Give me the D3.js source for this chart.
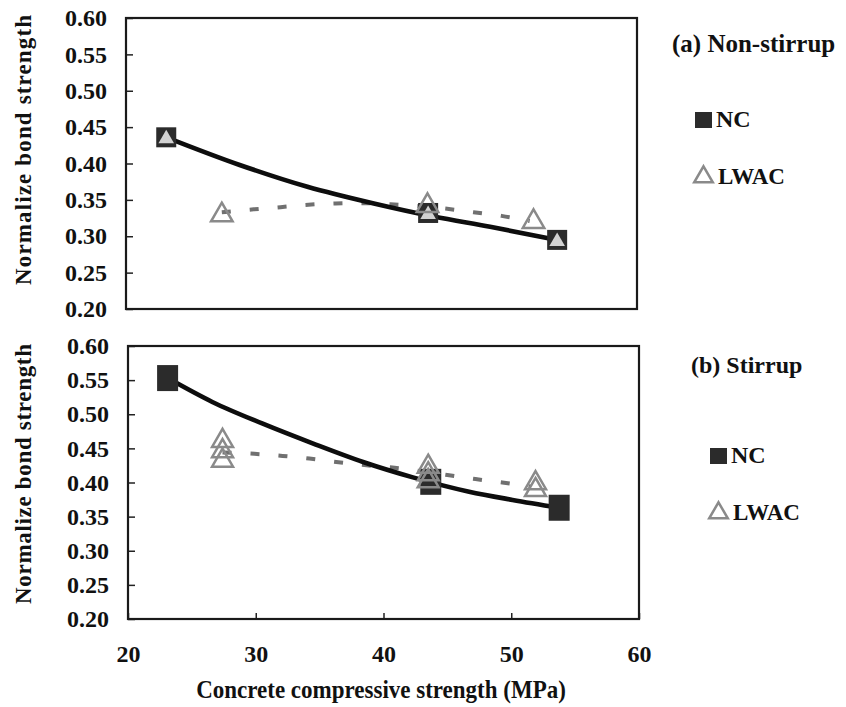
<!DOCTYPE html>
<html>
<head>
<meta charset="utf-8">
<script src="https://cdn.jsdelivr.net/npm/d3@7"></script>
<style>
  body { margin: 0; background: #fff; }
  text { font-family: "Liberation Serif", "Times New Roman", serif; font-weight: bold; fill: #111; }
</style>
</head>
<body>
<script>
// tick labels
const xTicks = [20, 30, 40, 50, 60];
const yTicks = [0.20, 0.25, 0.30, 0.35, 0.40, 0.45, 0.50, 0.55, 0.60];

// (a) non-stirrup : [f'c (MPa), normalized bond strength]
const ncA = [[23.15, 0.436], [43.65, 0.332], [53.75, 0.295]];
const lwacA = [[27.5, 0.329], [43.6, 0.342], [51.9, 0.320]];
const ncTrendA = [[23.15, 0.436], [28.9, 0.398], [34.2, 0.368], [39.4, 0.345], [44.1, 0.327], [48.5, 0.313], [53.75, 0.295]];
const lwacTrendA = [[27.5, 0.333], [30.0, 0.337], [32.1, 0.340], [34.0, 0.343], [36.4, 0.345], [38.5, 0.3455], [40.7, 0.344], [45.0, 0.338], [47.2, 0.333], [49.4, 0.328], [51.6, 0.321]];

// (b) stirrup
const ncB = [[23.1, 0.553], [43.7, 0.401], [53.75, 0.363]];
const lwacB = [[27.4, 0.461], [27.4, 0.446], [27.4, 0.432],
               [43.5, 0.423], [43.5, 0.412], [43.5, 0.402],
               [51.9, 0.399], [51.9, 0.389]];
const ncTrendB = [[23.1, 0.553], [26.6, 0.518], [30.5, 0.4865], [34.5, 0.457], [38.4, 0.430], [42.3, 0.4075], [46.7, 0.3865], [50.1, 0.3745], [53.75, 0.363]];
const lwacTrendB = [[27.4, 0.444], [29.9, 0.442], [32.1, 0.439], [34.2, 0.435], [36.3, 0.430], [38.5, 0.4255], [40.7, 0.422], [45.0, 0.411], [47.2, 0.405], [49.3, 0.400], [51.5, 0.394]];

const svg = d3.select("body").append("svg")
    .attr("width", 846)
    .attr("height", 707);

const tri = d3.symbol().type(d3.symbolTriangle);

function drawPanel(p) {
    const x = d3.scaleLinear().domain([20, 60]).range([p.left, p.right]);
    const y = d3.scaleLinear().domain([0.2, 0.6]).range([p.bottom, p.top]);
    const g = svg.append("g");

    // y axis, ticks inside
    const ya = g.append("g")
        .attr("transform", `translate(${p.left},0)`)
        .call(d3.axisLeft(y).tickValues(yTicks).tickSize(-7).tickPadding(19).tickFormat(d3.format(".2f")));
    ya.select(".domain").remove();
    ya.selectAll("line").attr("stroke", "#222").attr("stroke-width", 1.5);
    ya.selectAll("text").style("font-size", "24px").attr("fill", "#111");

    if (p.xAxis) {
        const xa = g.append("g")
            .attr("transform", `translate(0,${p.bottom})`)
            .call(d3.axisBottom(x).tickValues(xTicks).tickSize(-6).tickPadding(26));
        xa.select(".domain").remove();
        xa.selectAll("line").attr("stroke", "#222").attr("stroke-width", 1.5);
        xa.selectAll("text").style("font-size", "24px").attr("fill", "#111");
    }

    // frame
    g.append("rect")
        .attr("x", p.left).attr("y", p.top)
        .attr("width", p.right - p.left).attr("height", p.bottom - p.top)
        .attr("fill", "none").attr("stroke", "#1a1a1a").attr("stroke-width", 2.2);

    const line = d3.line().x(d => x(d[0])).y(d => y(d[1])).curve(d3.curveMonotoneX);

    g.append("path")
        .datum(p.lwacTrend)
        .attr("d", line)
        .attr("fill", "none")
        .attr("stroke", "#707070")
        .attr("stroke-width", 4)
        .attr("stroke-dasharray", "9,19");

    g.append("path")
        .datum(p.ncTrend)
        .attr("d", line)
        .attr("fill", "none")
        .attr("stroke", "#0d0d0d")
        .attr("stroke-width", 4.6)
        .attr("stroke-linejoin", "round");

    g.selectAll(".nc")
        .data(p.nc)
        .join("rect")
        .attr("class", "nc")
        .attr("x", d => x(d[0]) - p.sqW / 2)
        .attr("y", d => y(d[1]) - p.sqH / 2)
        .attr("width", p.sqW).attr("height", p.sqH)
        .attr("fill", "#2b2b2b");

    if (p.innerTri) {
        g.selectAll(".inner")
            .data(p.nc)
            .join("path")
            .attr("class", "inner")
            .attr("transform", d => `translate(${x(d[0])},${y(d[1]) + 1.5})`)
            .attr("d", tri.size(105)())
            .attr("fill", "#d2d2d2");
    }

    g.selectAll(".lw")
        .data(p.lwac)
        .join("path")
        .attr("class", "lw")
        .attr("transform", d => `translate(${x(d[0])},${y(d[1])})`)
        .attr("d", tri.size(p.triSize)())
        .attr("fill", "none")
        .attr("stroke", "#8a8a8a")
        .attr("stroke-width", 2.5);

    // y title
    g.append("text")
        .attr("transform", `translate(31,${p.titleY}) rotate(-90)`)
        .attr("text-anchor", "middle")
        .attr("textLength", p.titleLen)
        .style("font-size", "23px")
        .text("Normalize bond strength");

    // legend
    g.append("text")
        .attr("x", p.lab[0]).attr("y", p.lab[1])
        .style("font-size", p.labSize)
        .text(p.label);
    g.append("rect")
        .attr("x", p.leg[0]).attr("y", p.leg[1] - 15)
        .attr("width", 17).attr("height", 16)
        .attr("fill", "#2b2b2b");
    g.append("text")
        .attr("x", p.leg[0] + 21).attr("y", p.leg[1])
        .style("font-size", "24px")
        .text("NC");
    g.append("path")
        .attr("transform", `translate(${p.leg[0] + 8.5},${p.leg[1] + 50})`)
        .attr("d", tri.size(150)())
        .attr("fill", "none")
        .attr("stroke", "#8a8a8a")
        .attr("stroke-width", 2.5);
    g.append("text")
        .attr("x", p.leg[0] + 23).attr("y", p.leg[1] + 57)
        .style("font-size", "23px")
        .text("LWAC");
}

drawPanel({
    left: 126, right: 637, top: 18, bottom: 309,
    nc: ncA, lwac: lwacA, ncTrend: ncTrendA, lwacTrend: lwacTrendA,
    sqW: 20, sqH: 20, triSize: 200, innerTri: true, xAxis: false,
    titleY: 150, titleLen: 270,
    label: "(a) Non-stirrup", lab: [672, 52], labSize: "25px",
    leg: [695, 127]
});

drawPanel({
    left: 128, right: 639, top: 346, bottom: 619,
    nc: ncB, lwac: lwacB, ncTrend: ncTrendB, lwacTrend: lwacTrendB,
    sqW: 21, sqH: 26, triSize: 190, innerTri: false, xAxis: true,
    titleY: 474, titleLen: 260,
    label: "(b) Stirrup", lab: [691, 373], labSize: "24px",
    leg: [710, 463]
});

// x title, slightly tall glyphs as in the source figure
svg.append("text")
    .attr("transform", "translate(381,698) scale(1,1.14)")
    .attr("text-anchor", "middle")
    .style("font-size", "23px")
    .text("Concrete compressive strength (MPa)");
</script>
</body>
</html>
